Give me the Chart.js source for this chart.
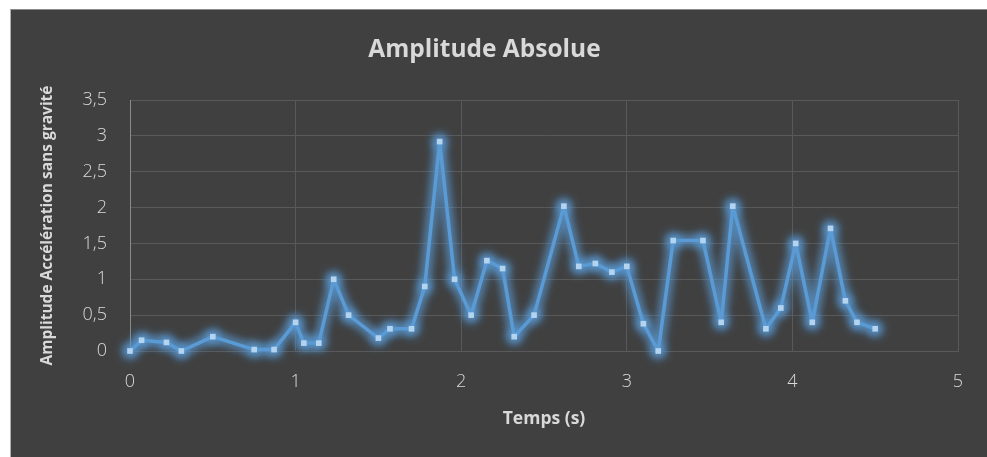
<!DOCTYPE html>
<html>
<head>
<meta charset="utf-8">
<script src="https://cdn.jsdelivr.net/npm/chart.js@4"></script>
<style>
  html, body { margin: 0; padding: 0; background: #ffffff; }
  body { width: 987px; height: 457px; position: relative; overflow: hidden; }
  #box {
    position: absolute; left: 10px; top: 9px; width: 976px; height: 447px;
    background: #404040; border-top: 1px solid #8a8a8a; border-left: 1px solid #b0b0b0;
  }
  canvas { display: block; }
</style>
</head>
<body>
<div id="box"><canvas id="chart" width="976" height="447"></canvas></div>
<script>
  // temps (s) et amplitude
  const times = [0, 0.07, 0.22, 0.31, 0.5, 0.75, 0.87, 1.0, 1.05, 1.14,
    1.23, 1.32, 1.5, 1.57, 1.7, 1.78, 1.87, 1.96, 2.06, 2.155,
    2.25, 2.32, 2.44, 2.62, 2.71, 2.81, 2.91, 3.0, 3.1, 3.19,
    3.28, 3.46, 3.57, 3.64, 3.84, 3.93, 4.02, 4.12, 4.23, 4.32,
    4.39, 4.5];
  const amplitude = [0, 0.15, 0.12, 0, 0.2, 0.02, 0.02, 0.4, 0.11, 0.11,
    1.0, 0.5, 0.18, 0.31, 0.31, 0.9, 2.92, 1.0, 0.5, 1.26,
    1.15, 0.2, 0.5, 2.02, 1.18, 1.22, 1.1, 1.18, 0.38, 0.0,
    1.54, 1.54, 0.4, 2.02, 0.31, 0.6, 1.5, 0.4, 1.71, 0.7,
    0.4, 0.31];
  const xTicks = [0, 1, 2, 3, 4, 5];
  const yTicks = [0, 0.5, 1, 1.5, 2, 2.5, 3, 3.5];

  const points = times.map((t, i) => ({ x: t, y: amplitude[i] }));
  const fr = v => String(v).replace(".", ",");

  // halo bleu flou autour de la courbe (positions prises dans meta)
  const glow = {
    id: "glow",
    beforeDatasetDraw(chart, args) {
      const ctx = chart.ctx;
      const pts = args.meta.data;
      ctx.save();
      ctx.filter = "blur(5px)";
      ctx.strokeStyle = "rgba(91, 155, 213, 0.6)";
      ctx.lineWidth = 10;
      ctx.lineJoin = "round";
      ctx.lineCap = "round";
      ctx.beginPath();
      pts.forEach((p, i) => i ? ctx.lineTo(p.x, p.y) : ctx.moveTo(p.x, p.y));
      ctx.stroke();
      ctx.fillStyle = "rgba(91, 155, 213, 0.7)";
      pts.forEach(p => { ctx.beginPath(); ctx.arc(p.x, p.y, 8, 0, Math.PI * 2); ctx.fill(); });
      ctx.restore();
      ctx.save();
      ctx.shadowColor = "rgba(91, 155, 213, 0.9)";
      ctx.shadowBlur = 8;
    },
    afterDatasetDraw(chart) {
      chart.ctx.restore();
    }
  };

  const font = "'Open Sans', 'DejaVu Sans', sans-serif";

  new Chart(document.getElementById("chart"), {
    type: "line",
    data: {
      datasets: [{
        label: "Amplitude",
        data: points,
        borderColor: "#5b9bd5",
        borderWidth: 3.5,
        borderJoinStyle: "round",
        borderCapStyle: "round",
        pointStyle: "rect",
        pointRadius: 4,
        pointBackgroundColor: "#b4d3ef",
        pointBorderWidth: 0,
        tension: 0,
        clip: false
      }]
    },
    options: {
      responsive: false,
      animation: false,
      layout: { padding: { left: 0, right: 29, top: 0, bottom: 0 } },
      plugins: {
        legend: { display: false },
        tooltip: { enabled: false },
        title: {
          display: true,
          text: "Amplitude Absolue",
          color: "#d9d9d9",
          font: { family: font, size: 24.5, weight: "bold" },
          padding: { top: 25, bottom: 35.6 }
        }
      },
      scales: {
        x: {
          type: "linear",
          min: 0, max: 5,
          afterBuildTicks: s => { s.ticks = xTicks.map(v => ({ value: v })); },
          afterFit: s => { s.height = 106; },
          ticks: { color: "#d9d9d9", font: { family: font, size: 18, weight: 300 }, padding: 20, callback: fr },
          grid: { color: "#595959", lineWidth: 1, drawTicks: false },
          border: { color: "#595959" },
          title: {
            display: true, text: "Temps (s)", color: "#d9d9d9",
            font: { family: font, size: 17.5, weight: "bold" },
            padding: { top: 0, bottom: 27.5 }
          }
        },
        y: {
          min: 0, max: 3.5,
          afterBuildTicks: s => { s.ticks = yTicks.map(v => ({ value: v })); },
          afterFit: s => { s.width = 119; },
          ticks: { color: "#d9d9d9", font: { family: font, size: 18, weight: 300 }, padding: 23, callback: fr },
          grid: { color: "#595959", lineWidth: 1, drawTicks: false },
          border: { color: "#8a8a8a" },
          title: {
            display: true, text: "Amplitude Accélération sans gravité", color: "#d9d9d9",
            font: { family: font, size: 15.5, weight: "bold" },
            padding: { top: 27, bottom: 0 }
          }
        }
      }
    },
    plugins: [glow]
  });
</script>
</body>
</html>
